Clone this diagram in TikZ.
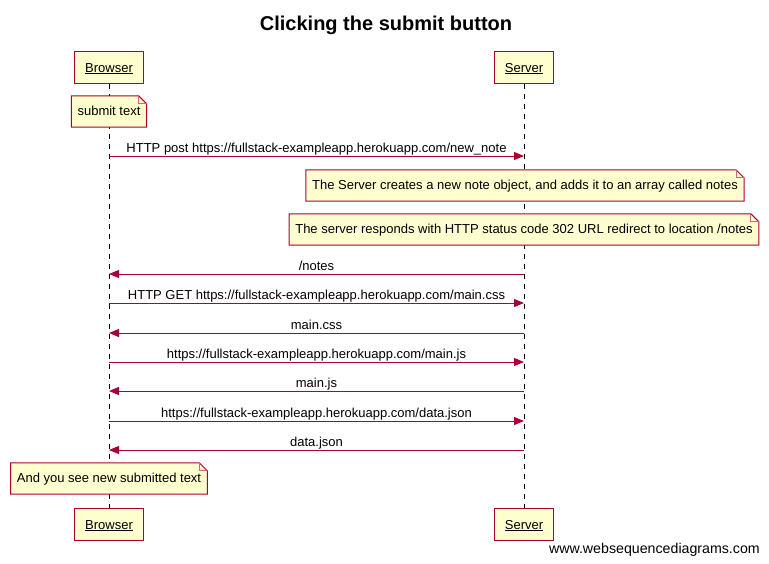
\documentclass[tikz,border=0pt]{standalone}
\usepackage{fontspec}
\setmainfont{Liberation Sans}
\usepackage{xcolor}
\usetikzlibrary{arrows.meta}

\definecolor{boxred}{HTML}{A80036}
\definecolor{boxfill}{HTML}{FEFECE}

\begin{document}
\begin{tikzpicture}[
			x=1pt, y=-1pt,
			every node/.style={font=\fontsize{13}{15}\selectfont},
			actor/.style={rectangle, draw=boxred, fill=boxfill, line width=1pt, minimum height=32pt, inner xsep=10.5pt, text height=10pt, text depth=0pt},
			note/.style={rectangle, fill=boxfill, minimum height=31pt, inner xsep=6pt, text height=9pt, text depth=1pt},
			noteline/.style={draw=boxred, line width=1pt},
			lifeline/.style={draw, black, line width=1pt, dash pattern=on 5pt off 5pt},
			msg/.style={draw, boxred, line width=1pt, -{Triangle[length=10pt,width=8pt]}},
			msglabel/.style={anchor=base, yshift=4pt, text=black}
			]
			
			\useasboundingbox (0,0) rectangle (769,563);
			
			% 标题
			\node (title) [anchor=base, font=\fontsize{20}{24}\selectfont\bfseries] at (386,30) {Clicking the submit button};
			
			% 参与者
			\node (Btop) [actor] at (109,67) {\underline{Browser}};
			\node (Stop) [actor] at (524,67) {\underline{Server}};
			\node (Bbot) [actor] at (109,524) {\underline{Browser}};
			\node (Sbot) [actor] at (524,524) {\underline{Server}};
			
			% 生命线
			\draw [lifeline] (Btop.south) -- (Bbot.north);
			\draw [lifeline] (Stop.south) -- (Sbot.north);
			
			% 注释
			\node (N1) [note] at (109,111.5) {submit text};
			\node (N2) [note] at (525,185.5) {The Server creates a new note object, and adds it to an array called notes};
			\node (N3) [note] at (524,229.5) {The server responds with HTTP status code 302 URL redirect to location /notes};
			\node (N4) [note] at (109,478.5) {And you see new submitted text};
			
			% 注释边框与折角
			\foreach \n in {N1,N2,N3,N4} {
				\fill [white] ([xshift=-8pt]\n.north east) -- (\n.north east) -- ([yshift=-8pt]\n.north east) -- cycle;
				\draw [noteline] (\n.north west) -- ([xshift=-8pt]\n.north east) -- ([yshift=-8pt]\n.north east) -- (\n.south east) -- (\n.south west) -- cycle;
				\draw [boxred!60, line width=0.8pt] ([xshift=-8pt]\n.north east) -- ([xshift=-8pt,yshift=-8pt]\n.north east) -- ([yshift=-8pt]\n.north east);
			}
			
			% 消息端点
			\coordinate (B1) at (109,156); \coordinate (S1) at (524,156);
			\coordinate (B2) at (109,274); \coordinate (S2) at (524,274);
			\coordinate (B3) at (109,303); \coordinate (S3) at (524,303);
			\coordinate (B4) at (109,333); \coordinate (S4) at (524,333);
			\coordinate (B5) at (109,362); \coordinate (S5) at (524,362);
			\coordinate (B6) at (109,391); \coordinate (S6) at (524,391);
			\coordinate (B7) at (109,421); \coordinate (S7) at (524,421);
			\coordinate (B8) at (109,450); \coordinate (S8) at (524,450);
			
			% 消息箭头
			\draw [msg] (B1) -- node[msglabel] {HTTP post https://fullstack-exampleapp.herokuapp.com/new\_note} (S1);
			\draw [msg] (S2) -- node[msglabel] {/notes} (B2);
			\draw [msg] (B3) -- node[msglabel] {HTTP GET https://fullstack-exampleapp.herokuapp.com/main.css} (S3);
			\draw [msg] (S4) -- node[msglabel] {main.css} (B4);
			\draw [msg] (B5) -- node[msglabel] {https://fullstack-exampleapp.herokuapp.com/main.js} (S5);
			\draw [msg] (S6) -- node[msglabel] {main.js} (B6);
			\draw [msg] (B7) -- node[msglabel] {https://fullstack-exampleapp.herokuapp.com/data.json} (S7);
			\draw [msg] (S8) -- node[msglabel] {data.json} (B8);
			
			% 页脚
			\node (footer) [anchor=base east, inner sep=0pt, font=\fontsize{14.2}{16}\selectfont] at (760,553) {www.websequencediagrams.com};
			
		\end{tikzpicture}
\end{document}
